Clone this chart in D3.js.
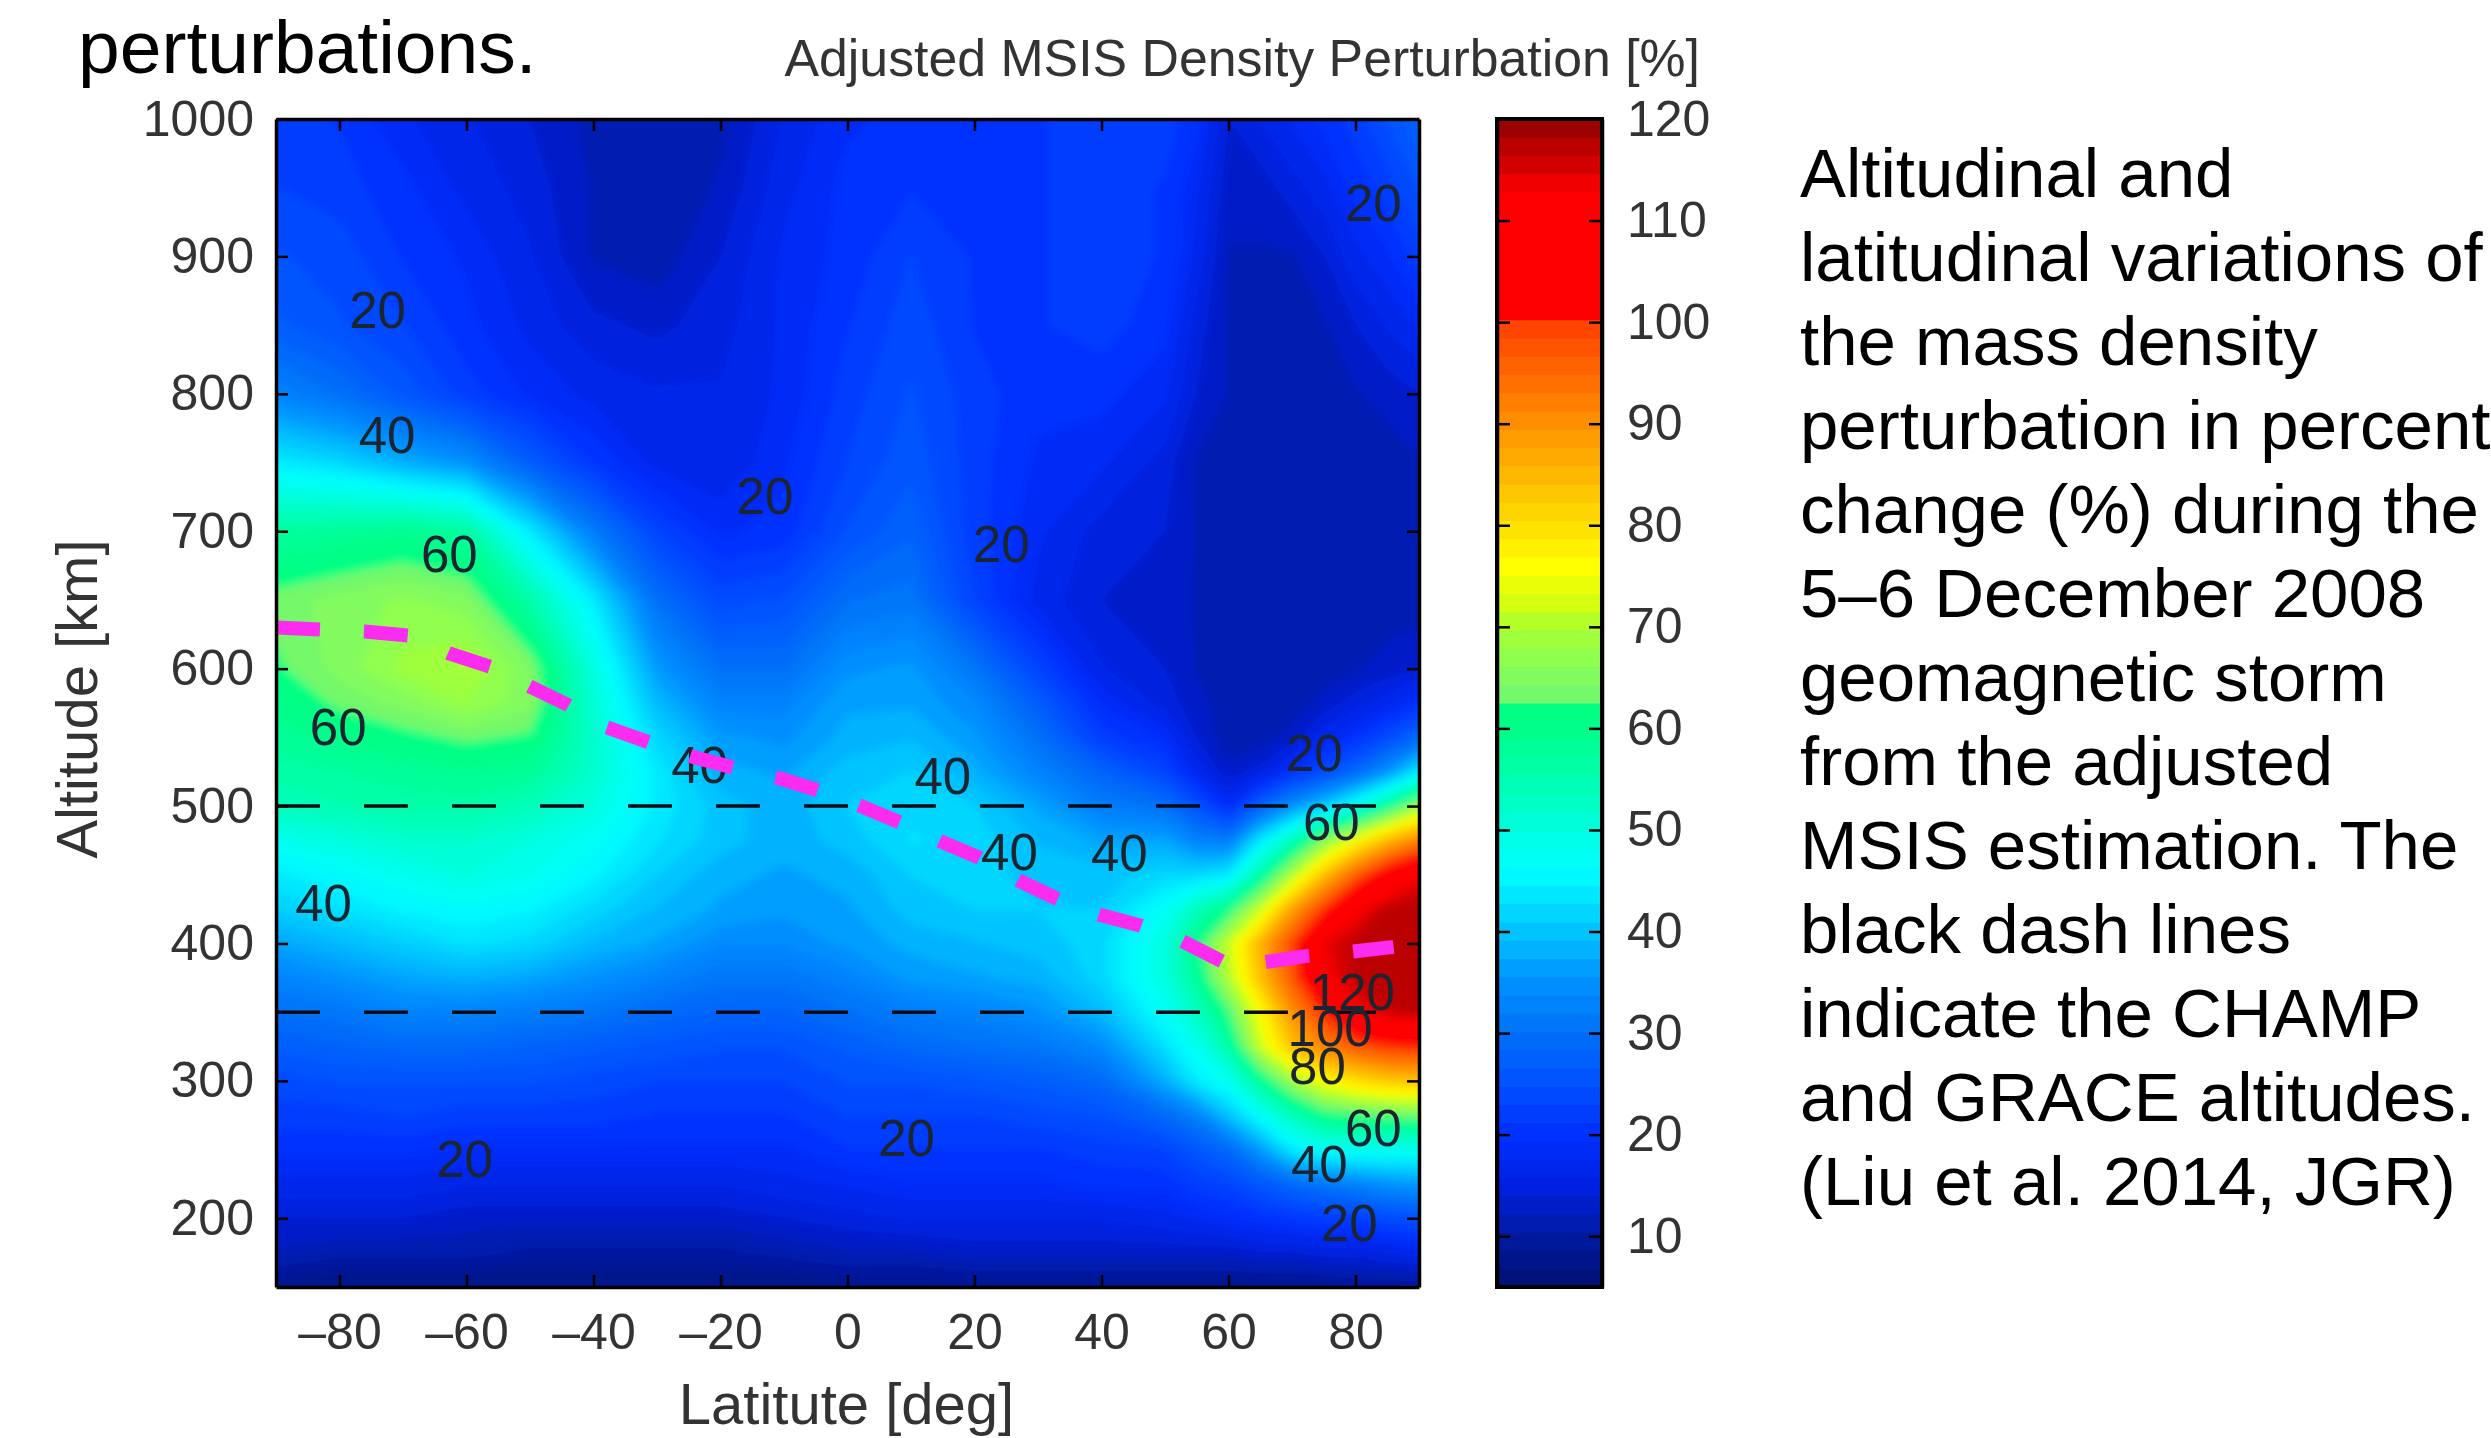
<!DOCTYPE html>
<html lang="en">
<head>
    <meta charset="UTF-8">
    <title>Adjusted MSIS Density Perturbation</title>
    <script src="https://cdn.jsdelivr.net/npm/d3@7/dist/d3.min.js"></script>
    <style type="text/css">
        html, body { margin: 0; padding: 0; background: #fff; }
        svg { display: block; }
        text { font-family: "Liberation Sans", Arial, sans-serif; }
        .tick text { fill: #333; font-size: 50px; }
        .axis .domain { stroke: #000; stroke-width: 3.5px; }
        .axis .tick line { stroke: #000; stroke-width: 2.5px; }
    </style>
</head>
<body>
    <div id="diagram"></div>
    <script type="text/javascript">
        // grid: latitude columns, altitude rows, percent values
        var lats = [-90,-80,-70,-60,-50,-40,-30,-20,-10,0,10,20,30,40,50,55,60,65,70,75,80,85,90];
        var alts = [1000,950,900,850,800,750,700,650,600,575,550,525,500,475,450,425,400,375,350,325,300,275,250,225,200,175,150];
        var density = [
            [22,21,18,16,14,11.5,10.5,11.5,16,19,20,21,21,22,22,20,14,16,18,20,22,25,28],
            [23,22,20,17,15,12,10.5,12.5,17,20,21,21,21,22,21,18,13,13,15,17,20,22,25],
            [25,24,21,19,16,12,11,14,18,20,23,21,21,22,21,17,12,12,12,14,17,19,22],
            [27,25,23,20,17,14.5,13.5,15,18,21,24,21,21,22,20,15,12,11,11,12,14,16,18],
            [33,30,26,22,19,17,16,16,18,22,25,22,20,20,18,14,12,11,11,11,12,13,14],
            [44,42,38,35,27,21,17,16,19,23,26,22,19,18,15,12,11,11,11,11,11,11,12],
            [57,58,59,57,44,32,23,19,20,25,28,22,18,15,14,12,11,11,11,11,11,11,11],
            [63.5,65,66.5,65,56,44,30,24,25,30,31,23,17,14,13,12,11,11,11,11,11,11,11],
            [62,65,68.5,70,64.5,50,36,30,30,35,36,31,23,16,14,12,11,11,11,11,12,13,14],
            [60,63,65,68,65,51,39,33,33,37,37,34,27,19,15,13,11,11,11,13,15,17,20],
            [58,60,61.5,63,62,52,42,36,35,38,39,36,30,22,19,14,11,11,13,17,20,24,29],
            [56,57,58,59,58,52,44,38,37,40,41,38,33,28,23,17,13,15,20,24,29,35,44],
            [54,55,56,56,54,50,44,40,38,41,42,41,37,32,30,25,19,28,35,41,48,58,68],
            [48,50,52,52,50,47,43,40,38,40,43,42,39,37,37,33,32,44,54,66,76,85,92],
            [44,46,48,50,48,45,41,38,37,38,41,42,40,40,42,42,44,56,70,84,96,106,113],
            [41,43,45,46,45,42,39,37,36,37,40,41,41,41,47,54,60,72,88,100,112,117,118],
            [37,39,41,43,42,39,37,34,34,36,38,39,40,42,50,60,72,86,99,114,117,118,118],
            [33,35,37,38,37,35,33,31,31,33,36,37,38,42,50,58,70,84,97,112,117,118,118],
            [30,31,33,33,32,31,29,28,28,30,32,33,35,39,47,53,62,76,90,101,112,116,117],
            [27,28,29,29,28,27,26,25,25,27,29,30,31,34,43,48,56,72,84,92,97,100,101],
            [24,25,25,25,25,24,23,23,23,25,25,26,27,29,38,44,48,58,68,76,80,83,84],
            [22,22,23,22,22,22,21,21,21,23,23,23,24,25,29,33,40,47,54,60,62,63,64],
            [20,20,20,19,19,19,19,19,19,21,21,21,21,22,23,26,29,36,44,47,48,48,48],
            [17,17,17,16,16,16,16,16,17,18,19,19,19,20,20,22,23,26,29,31,33,35,36],
            [14,14,14,13,13,13,13,13,14,15,16,16,16,16,17,18,19,20,21,22,22,24,25],
            [12,11,11,11,10,10,10,10,11,12,12,13,13,13,13,13,13,14,14,15,15,16,17],
            [8,7,7,7,7,7,7,7,7,8,8,8,8,8,8,8,8,8,8,8,9,9,9]
        ];

        // colour bar
        var stopValues = [5,10,15,20,25,30,35,40,42,46,50,55,60,62.4,62.5,64,67,70,72,76,80,85,90,99.9,100,100.1,113,115,117,118,120];
        var stopColors = ["#001070","#001aa0","#0020e0","#0030ff","#0050ff","#0070f8","#0090ff","#00c4ff","#00d8ff","#00ffff","#00ffe0","#00ffb0","#00ff88","#00ff80","#70f870","#78f868","#90ff50","#a8ff30","#d0ff10","#ffff00","#ffe000","#ffb800","#ff9000","#ff4000","#ff4000","#ff0000","#ff0000","#d80000","#c00000","#b00000","#8b0000"];
        var barTicks = [10,20,30,40,50,60,70,80,90,100,110,120];

        var latTicks = [-80,-60,-40,-20,0,20,40,60,80];
        var altTicks = [200,300,400,500,600,700,800,900,1000];

        // satellite altitudes (black dashes) and the magenta curve
        var satelliteAlts = [500,350];
        var curveLats = [-90,-76,-69,-62.7,-56,-50,-44,-38,-31,-24.5,-18,-10.6,-5,1.8,8.3,14.6,20.7,26.9,33.2,39.6,46.2,52.4,59,65.8,72.4,79.4,86];
        var curveAlts = [630,627,624,611,601,587,573.5,557.5,546,536,528,520,512,500.5,488,474.5,462.5,446,432,421,413,402.5,387,386.5,391,394,397.5];

        // contour labels
        var labelText = [20,40,60,60,40,20,20,40,20,40,40,40,20,20,20,60,120,100,80,60,40,20];
        var labelLats = [-74,-72.5,-62.7,-80.2,-82.5,-60.3,-13,-23.3,24.2,15,25.5,42.8,9.3,82.8,73.5,76.2,79.5,76,74,82.8,74.3,79];
        var labelAlts = [861,770,684,558,430,243.5,726,530.5,691,522,467,466,259,939,539,489,365,339,311,266,240,197];

        var textLines = ["Altitudinal and","latitudinal variations of","the mass density","perturbation in percent","change (%) during the","5\u20136 December 2008","geomagnetic storm","from the adjusted","MSIS estimation. The","black dash lines","indicate the CHAMP","and GRACE altitudes.","(Liu et al. 2014, JGR)"];

        var margin = {left: 276, right: 1419, top: 119, bottom: 1287};
        var svg = d3.select("#diagram").append("svg")
            .attr("width", 2491)
            .attr("height", 1438);

        var x = d3.scaleLinear().domain([-90,90]).range([margin.left,margin.right]);
        var y = d3.scaleLinear().domain([150,1000]).range([margin.bottom,margin.top]);
        var color = d3.scaleLinear().domain(stopValues).range(stopColors).clamp(true);

        // repeat the outer rows and columns so the blur does not fade at the frame
        var padLats = [-100].concat(lats,[100]);
        var padAlts = [1020].concat(alts,[130]);
        var padRows = [density[0]].concat(density,[density[density.length-1]]);
        var flat = [];
        padRows.forEach(function (row) {
            flat = flat.concat([row[0]],row,[row[row.length-1]]);
        });
        var colToLat = d3.scaleLinear().domain(padLats.map(function (d,i) { return i+0.5; })).range(padLats);
        var rowToAlt = d3.scaleLinear().domain(padAlts.map(function (d,i) { return i+0.5; })).range(padAlts);

        var step = 115/64;
        var levels = d3.range(5,125,step);
        var contours = d3.contours()
            .size([padLats.length,padAlts.length])
            .thresholds(levels)(flat);
        var project = d3.geoTransform({
            point: function (a,b) {
                this.stream.point(x(colToLat(a)),y(rowToAlt(b)));
            }
        });
        var path = d3.geoPath(project);

        var defs = svg.append("defs");
        defs.append("clipPath").attr("id","plotClip").append("rect")
            .attr("x",margin.left).attr("y",margin.top)
            .attr("width",margin.right-margin.left)
            .attr("height",margin.bottom-margin.top);
        defs.append("filter").attr("id","soft")
            .attr("filterUnits","userSpaceOnUse")
            .attr("x",0).attr("y",0).attr("width",2491).attr("height",1438)
            .append("feGaussianBlur").attr("stdDeviation",5);

        var field = svg.append("g").attr("clip-path","url(#plotClip)")
            .append("g").attr("filter","url(#soft)");
        field.selectAll("path")
            .data(contours)
            .enter()
            .append("path")
            .attr("d",path)
            .attr("fill",function (d) { return color(d.value+step/2); });

        // black dash lines
        svg.selectAll(".satellite")
            .data(satelliteAlts)
            .enter()
            .append("line")
            .attr("class","satellite")
            .attr("x1",x(-90)).attr("x2",x(90))
            .attr("y1",function (d) { return y(d); })
            .attr("y2",function (d) { return y(d); })
            .attr("stroke","#0a0a14")
            .attr("stroke-width",3.5)
            .attr("stroke-dasharray","44 44");

        // contour labels
        svg.selectAll(".contour-label")
            .data(labelText)
            .enter()
            .append("text")
            .attr("class","contour-label")
            .attr("x",function (d,i) { return x(labelLats[i]); })
            .attr("y",function (d,i) { return y(labelAlts[i]); })
            .attr("dy","0.36em")
            .attr("text-anchor","middle")
            .attr("font-size",51)
            .attr("fill","#1c2430")
            .text(function (d) { return d; });

        // magenta curve
        var curve = d3.line()
            .x(function (d) { return x(d); })
            .y(function (d,i) { return y(curveAlts[i]); });
        svg.append("path")
            .attr("d",curve(curveLats))
            .attr("fill","none")
            .attr("stroke","#fb2bef")
            .attr("stroke-width",14)
            .attr("stroke-dasharray","44 44");

        // axes of the main panel
        var tickLabel = function (d) { return d < 0 ? "\u2013"+(-d) : d; };
        svg.append("g").attr("class","axis")
            .attr("transform","translate(0,"+margin.bottom+")")
            .call(d3.axisBottom(x).tickValues(latTicks).tickFormat(tickLabel).tickSize(-12).tickSizeOuter(0).tickPadding(26));
        svg.append("g").attr("class","axis")
            .attr("transform","translate(0,"+margin.top+")")
            .call(d3.axisTop(x).tickValues(latTicks).tickFormat("").tickSize(-12).tickSizeOuter(0));
        svg.append("g").attr("class","axis")
            .attr("transform","translate("+margin.left+",0)")
            .call(d3.axisLeft(y).tickValues(altTicks).tickFormat(tickLabel).tickSize(-12).tickSizeOuter(0).tickPadding(22));
        svg.append("g").attr("class","axis")
            .attr("transform","translate("+margin.right+",0)")
            .call(d3.axisRight(y).tickValues(altTicks).tickFormat("").tickSize(-12).tickSizeOuter(0));

        svg.append("text")
            .attr("transform","translate(97,699) rotate(-90)")
            .attr("text-anchor","middle")
            .attr("font-size",58)
            .attr("fill","#333")
            .text("Altitude [km]");
        svg.append("text")
            .attr("x",x(0)-1).attr("y",1424)
            .attr("text-anchor","middle")
            .attr("font-size",58)
            .attr("fill","#333")
            .text("Latitute [deg]");
        svg.append("text")
            .attr("x",1700).attr("y",76)
            .attr("text-anchor","end")
            .attr("font-size",51.8)
            .attr("fill","#333")
            .text("Adjusted MSIS Density Perturbation [%]");

        // colour bar
        var barLeft = 1497, barRight = 1602;
        var barY = d3.scaleLinear().domain([5,120]).range([margin.bottom,margin.top]);
        svg.selectAll(".bar-band")
            .data(d3.range(5,120,step))
            .enter()
            .append("rect")
            .attr("class","bar-band")
            .attr("x",barLeft)
            .attr("width",barRight-barLeft)
            .attr("y",function (d) { return barY(d+step)-0.5; })
            .attr("height",function (d) { return barY(d)-barY(d+step)+1; })
            .attr("fill",function (d) { return color(d+step/2); });
        svg.append("g").attr("class","axis")
            .attr("transform","translate("+barLeft+",0)")
            .call(d3.axisLeft(barY).tickValues(barTicks).tickFormat("").tickSize(-13).tickSizeOuter(0));
        svg.append("g").attr("class","axis")
            .attr("transform","translate("+barRight+",0)")
            .call(d3.axisRight(barY).tickValues(barTicks).tickSize(-13).tickSizeOuter(0).tickPadding(25));
        svg.append("rect")
            .attr("x",barLeft).attr("y",margin.top)
            .attr("width",barRight-barLeft).attr("height",margin.bottom-margin.top)
            .attr("fill","none").attr("stroke","#000").attr("stroke-width",4);

        // slide text around the figure
        svg.append("text")
            .attr("x",78).attr("y",73)
            .attr("font-size",75)
            .attr("fill","#000")
            .text("perturbations.");
        svg.selectAll(".note")
            .data(textLines)
            .enter()
            .append("text")
            .attr("class","note")
            .attr("x",1800)
            .attr("y",function (d,i) { return 197+i*84; })
            .attr("font-size",69)
            .attr("fill","#000")
            .text(function (d) { return d; });
    </script>
</body>
</html>
